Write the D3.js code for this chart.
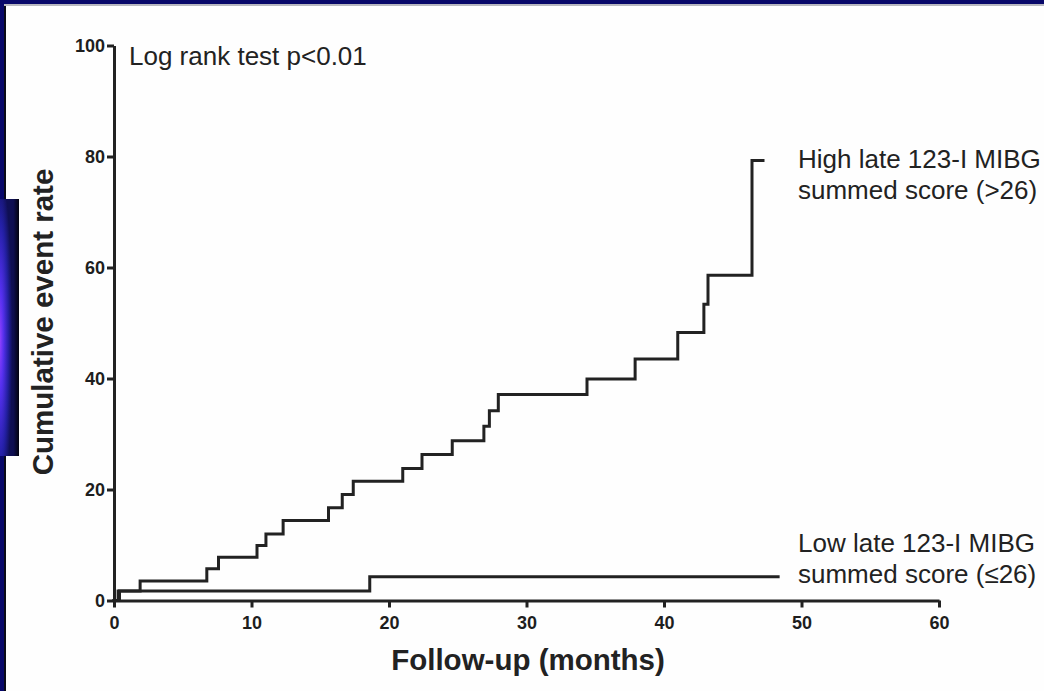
<!DOCTYPE html>
<html>
<head>
<meta charset="utf-8">
<script src="https://cdn.jsdelivr.net/npm/d3@7"></script>
<style>
  html, body { margin: 0; padding: 0; background: #fefefe; }
  svg { display: block; }
  .tick text { font-family: "Liberation Sans", Arial, sans-serif; font-weight: bold; fill: #1e1e1e; }
</style>
</head>
<body>
<svg id="chart"></svg>
<script>
// follow-up months where each step happens, and the cumulative rate after it
const highMonths = [0, 0.3, 1.9, 6.75, 7.6, 10.4, 11.05, 12.3, 15.6, 16.6, 17.4, 21.0, 22.4, 24.6, 26.9, 27.3, 27.95, 34.4, 37.9, 41.0, 42.9, 43.2, 46.4, 47.2];
const highRates  = [0, 1.7, 3.5, 5.7, 7.8, 9.9, 12.0, 14.4, 16.7, 19.1, 21.5, 23.8, 26.3, 28.8, 31.4, 34.2, 37.1, 39.9, 43.5, 48.3, 53.4, 58.6, 79.3, 79.3];

const lowMonths = [0, 0.4, 18.6, 48.3];
const lowRates  = [0, 1.7, 4.3, 4.3];

const xTicks = [0, 10, 20, 30, 40, 50, 60];
const yTicks = [0, 20, 40, 60, 80, 100];

const highLabel = ['High late 123-I MIBG', 'summed score (>26)'];
const lowLabel = ['Low late 123-I MIBG', 'summed score (\u226426)'];
const testLabel = 'Log rank test p<0.01';

const w = 1044;
const h = 691;
const ink = '#222';

const svg = d3.select('#chart')
    .attr('width', w)
    .attr('height', h);

// slide frame bits (navy edges + glow box on the left)
const defs = svg.append('defs');
const glow = defs.append('radialGradient')
    .attr('id', 'glow')
    .attr('cx', '0%').attr('cy', '55%')
    .attr('r', '65%');
glow.append('stop').attr('offset', '0%').attr('stop-color', '#9040ff');
glow.append('stop').attr('offset', '30%').attr('stop-color', '#5530f0');
glow.append('stop').attr('offset', '70%').attr('stop-color', '#2420a8');
glow.append('stop').attr('offset', '100%').attr('stop-color', '#10105a');

const edge = defs.append('linearGradient')
    .attr('id', 'edge')
    .attr('x1', '0%').attr('x2', '100%');
edge.append('stop').attr('offset', '0%').attr('stop-color', '#000').attr('stop-opacity', 0);
edge.append('stop').attr('offset', '70%').attr('stop-color', '#000').attr('stop-opacity', 0.1);
edge.append('stop').attr('offset', '100%').attr('stop-color', '#000').attr('stop-opacity', 0.85);

svg.append('rect').attr('x', 0).attr('y', 0).attr('width', w).attr('height', 4).attr('fill', '#08086a');
svg.append('rect').attr('x', 0).attr('y', 4).attr('width', w).attr('height', 2).attr('fill', '#b8b8c0');
svg.append('rect').attr('x', 0).attr('y', 0).attr('width', 4).attr('height', h).attr('fill', '#08086a');
svg.append('rect').attr('x', 4).attr('y', 6).attr('width', 2).attr('height', h).attr('fill', '#0a0a18');
svg.append('rect').attr('x', 0).attr('y', 199).attr('width', 19).attr('height', 257).attr('fill', 'url(#glow)');
svg.append('rect').attr('x', 0).attr('y', 199).attr('width', 19).attr('height', 257).attr('fill', 'url(#edge)');

const xScale = d3.scaleLinear()
    .domain([0, 60])
    .range([114, 939]);

const yScale = d3.scaleLinear()
    .domain([0, 100])
    .range([600.5, 45.5]);

const xAxis = d3.axisBottom(xScale)
    .tickValues(xTicks)
    .tickSize(7)
    .tickSizeOuter(0)
    .tickPadding(9);

const yAxis = d3.axisLeft(yScale)
    .tickValues(yTicks)
    .tickSize(7)
    .tickSizeOuter(0)
    .tickPadding(2);

const gx = svg.append('g')
    .attr('transform', 'translate(0,' + yScale(0) + ')')
    .call(xAxis);

const gy = svg.append('g')
    .attr('transform', 'translate(' + xScale(0) + ',0)')
    .call(yAxis);

[gx, gy].forEach(g => {
  g.selectAll('path, line')
      .attr('stroke', ink)
      .attr('stroke-width', 3);
  g.selectAll('text').style('font-size', '18px');
});

// step curves
const step = d3.line()
    .x(d => xScale(d[0]))
    .y(d => yScale(d[1]))
    .curve(d3.curveStepAfter);

const curves = [
  d3.zip(highMonths, highRates),
  d3.zip(lowMonths, lowRates)
];

svg.append('g')
    .selectAll('path')
    .data(curves)
    .enter()
    .append('path')
    .attr('d', step)
    .attr('fill', 'none')
    .attr('stroke', ink)
    .attr('stroke-width', 3)
    .attr('stroke-linejoin', 'miter')
    .attr('stroke-linecap', 'square');

// annotations
const font = '"Liberation Sans", Arial, sans-serif';

svg.append('text')
    .attr('x', 129)
    .attr('y', 65)
    .style('font-family', font)
    .style('font-size', '26px')
    .style('fill', ink)
    .text(testLabel);

const addLabel = (lines, x, y) => {
  svg.append('text')
      .attr('x', x)
      .attr('y', y)
      .style('font-family', font)
      .style('font-size', '26px')
      .style('fill', ink)
      .selectAll('tspan')
      .data(lines)
      .enter()
      .append('tspan')
      .attr('x', x)
      .attr('dy', (d, i) => i ? 30.5 : 0)
      .text(d => d);
};

addLabel(highLabel, 798, 168);
addLabel(lowLabel, 798, 552);

// axis titles
svg.append('text')
    .attr('text-anchor', 'middle')
    .attr('x', 528)
    .attr('y', 670)
    .style('font-family', font)
    .style('font-weight', 'bold')
    .style('font-size', '29.5px')
    .style('fill', ink)
    .text('Follow-up (months)');

svg.append('text')
    .attr('text-anchor', 'middle')
    .attr('transform', 'translate(53,322) rotate(-90)')
    .style('font-family', font)
    .style('font-weight', 'bold')
    .style('font-size', '29.5px')
    .style('fill', ink)
    .text('Cumulative event rate');
</script>
</body>
</html>
